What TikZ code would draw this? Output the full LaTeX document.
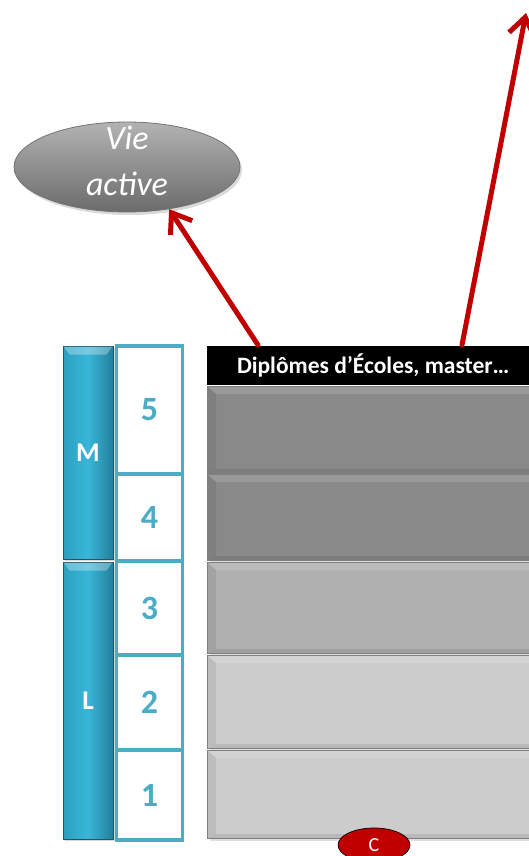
\documentclass[tikz,border=0pt]{standalone}
\usepackage{fontspec}
\setmainfont{Carlito}
\usetikzlibrary{arrows.meta,shapes.geometric,calc,shadows}
\definecolor{redarr}{HTML}{C00000}
\definecolor{accentblue}{HTML}{4BACC6}
\definecolor{bandA}{HTML}{898989}
\definecolor{bandB}{HTML}{B0B0B0}
\definecolor{bandC}{HTML}{CCCCCC}
\definecolor{blueL}{HTML}{2B9FC0}
\definecolor{blueM}{HTML}{3AB6D8}
\definecolor{blueR}{HTML}{237F9C}
\begin{document}
\begin{tikzpicture}[x=1pt,y=-1pt,
  band/.style={anchor=north west, minimum width=332pt, inner sep=0pt,
    draw=black!50, line width=1.2pt,
    drop shadow={opacity=0.25, shadow xshift=2pt, shadow yshift=-2pt}},
  numbox/.style={draw=accentblue, line width=3.5pt, fill=white, minimum width=66pt,
    inner sep=0pt, text=accentblue, font=\bfseries\fontsize{34}{40}\selectfont},
  lmbar/.style={draw=blueR!70!black, line width=0.6pt, minimum width=50pt, inner sep=0pt,
    left color=blueL, right color=blueR, middle color=blueM,
    text=white, font=\bfseries\fontsize{27}{32}\selectfont,
    drop shadow={opacity=0.3, shadow xshift=2pt, shadow yshift=-2pt}},
  arr/.style={draw=redarr, line width=5pt, line cap=round,
    -{Straight Barb[length=18pt,width=26pt,line width=5pt]}}
]
\useasboundingbox (0,0) rectangle (529,856);

% bands
\node[band, fill=bandA, minimum height=87pt] (b5) at (207,386) {};
\node[band, fill=bandA, minimum height=86pt] (b4) at (207,474) {};
\node[band, fill=bandB, minimum height=91pt] (b3) at (207,562) {};
\node[band, fill=bandC, minimum height=93pt] (b2) at (207,655) {};
\node[band, fill=bandC, minimum height=88pt] (b1) at (207,750) {};
\foreach \n in {b5,b4,b3,b2,b1}{
  \fill[white, opacity=0.14] ($(\n.north west)+(1,1)$) -- ($(\n.north east)+(0,1)$)
     -- ($(\n.north east)+(0,8)$) -- ($(\n.north west)+(9,8)$) -- cycle;
  \fill[black, opacity=0.07] ($(\n.north west)+(1,1)$) -- ($(\n.north west)+(9,8)$)
     -- ($(\n.south west)+(9,-5)$) -- ($(\n.south west)+(1,-1)$) -- cycle;
  \fill[black, opacity=0.09] ($(\n.south west)+(1,-1)$) -- ($(\n.south west)+(9,-5)$)
     -- ($(\n.south east)+(0,-5)$) -- ($(\n.south east)+(0,-1)$) -- cycle;
}

% header
\node[anchor=north west, fill=black, minimum width=332pt, minimum height=39pt, inner sep=0pt,
  text=white, font=\bfseries\fontsize{23.5}{26}\selectfont] (hdr) at (207,346) {Diplômes d’Écoles, master…};

% left bars
\node[lmbar, minimum height=213pt] (M) at (88,452.5) {M};
\node[lmbar, minimum height=277pt] (L) at (88,700.5) {L};
\foreach \n in {M,L}{
  \fill[white, opacity=0.3] ($(\n.north west)+(1,1)$) -- ($(\n.north east)+(-1,1)$)
     -- ($(\n.north east)+(-7,9)$) -- ($(\n.north west)+(7,9)$) -- cycle;
}

% numbered boxes
\node[numbox, minimum height=128pt] (n5) at (149.5,410) {5};
\node[numbox, minimum height=87pt] (n4) at (149.5,517.5) {4};
\node[numbox, minimum height=94pt] (n3) at (149.5,608) {3};
\node[numbox, minimum height=95pt] (n2) at (149.5,702.5) {2};
\node[numbox, minimum height=90pt] (n1) at (149.5,795) {1};

% Vie active
\node[ellipse, minimum width=226pt, minimum height=90pt, inner sep=0pt,
  top color=black!30, bottom color=black!58, draw=black!55, line width=0.8pt,
  drop shadow={opacity=0.3, shadow xshift=2pt, shadow yshift=-3pt}] (vie) at (127,167) {};
\node[text=white, align=center, inner sep=0pt, font=\itshape\fontsize{34}{46}\selectfont]
  (vietxt) at ($(vie.center)+(0,-6)$) {Vie\\active};

% C badge
\node[ellipse, minimum width=72pt, minimum height=34pt, inner sep=0pt, fill=redarr, draw=black,
  line width=0.7pt, text=white, font=\fontsize{20}{24}\selectfont] (c) at (374,845) {C};

% arrows
\coordinate (a1s) at (258,345);
\coordinate (a2s) at (462,345);
\coordinate (top) at (526,13);
\draw[arr] (a1s) -- (vie.-45);
\draw[arr] (a2s) -- (top);
\end{tikzpicture}
\end{document}
